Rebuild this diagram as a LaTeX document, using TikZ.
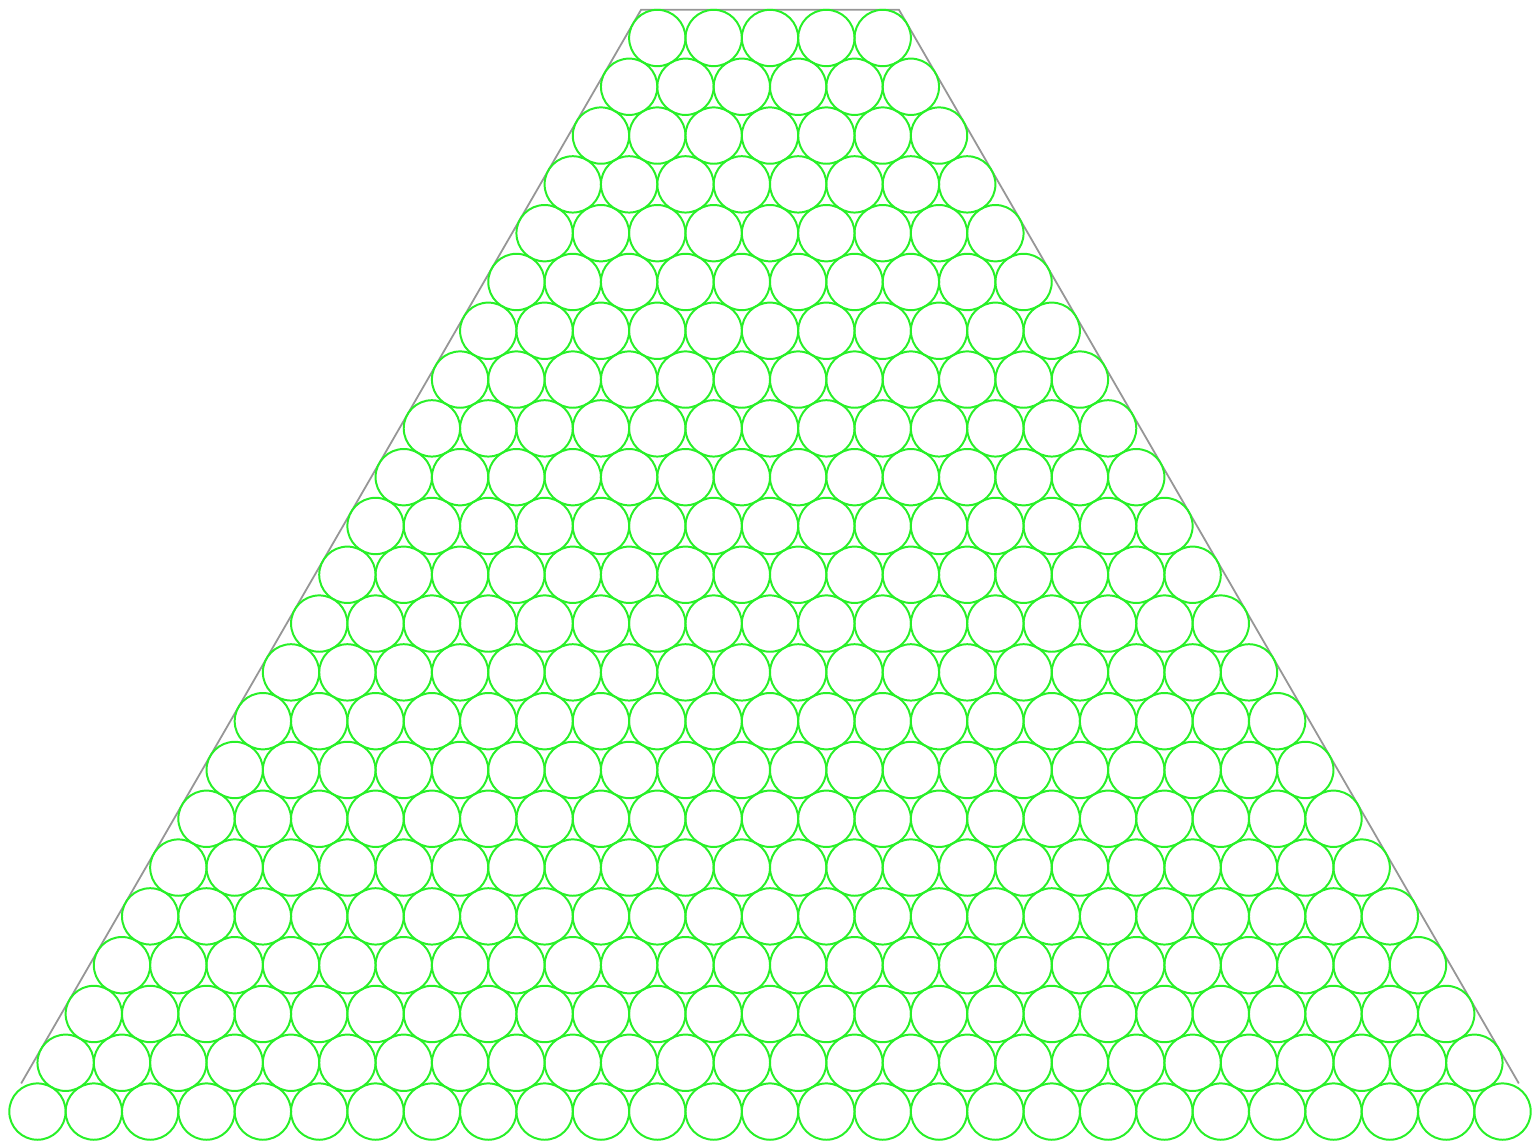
\documentclass[tikz,border=0pt]{standalone}
\usepackage{tikz}
\definecolor{ballgreen}{RGB}{40,240,40}
\definecolor{wallgray}{RGB}{150,150,150}

\begin{document}
\begin{tikzpicture}[x=1cm,y=1cm,ball/.style={draw=ballgreen,line width=1pt},wall/.style={draw=wallgray,line width=0.9pt}]
\useasboundingbox (-13.665,0.674) rectangle (13.558,-19.627);
\draw[wall] (-13.289,-18.553) -- (-2.2887,0.5) -- (2.2887,0.5) -- (13.289,-18.553);
\foreach \k in {0,...,22} {
  \pgfmathtruncatemacro{\nn}{5+\k-1}
  \foreach \i in {0,...,\nn} {\draw[ball] ({\i-\nn/2},{-\k*0.8660254}) circle (0.5);}
}
\end{tikzpicture}
\end{document}
